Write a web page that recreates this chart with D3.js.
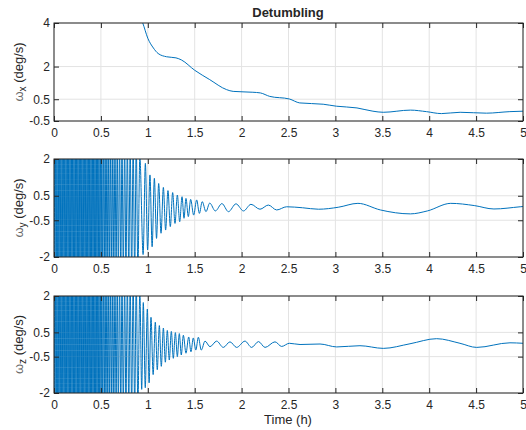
<!DOCTYPE html>
<html>
<head>
<meta charset="utf-8">
<script src="https://cdn.jsdelivr.net/npm/d3@7"></script>
<style>
  body { margin: 0; background: #fff; }
  text { font-family: "Liberation Sans", Arial, sans-serif; fill: #262626; }
</style>
</head>
<body>
<script>
var width = 526;
var height = 430;

// omega_x (deg/s) against time (h); values above 4 run off the top of the axes
var tX = [0, 0.4, 0.8, 0.946, 1.0, 1.06, 1.11, 1.2, 1.3, 1.36, 1.5, 1.66, 1.84, 1.91, 2.12, 2.2, 2.3, 2.51, 2.62, 2.87, 3.01, 3.23, 3.4, 3.51, 3.8, 3.97, 4.13, 4.33, 4.61, 4.86, 5.0];
var wX = [9, 7, 5, 4.0, 3.3, 2.85, 2.6, 2.45, 2.4, 2.3, 1.83, 1.4, 0.94, 0.86, 0.82, 0.79, 0.63, 0.51, 0.33, 0.27, 0.18, 0.1, -0.05, -0.1, 0.0, -0.07, -0.16, -0.1, -0.14, -0.07, -0.05];

// tumbling phase: turning points of the fast oscillation, all beyond +/-2 (clipped)
var denseT = [0.003, 0.010, 0.017, 0.024, 0.031, 0.038, 0.045, 0.052, 0.059, 0.066, 0.073, 0.080, 0.087, 0.094, 0.101, 0.108, 0.115, 0.122, 0.129, 0.136, 0.143, 0.150, 0.157, 0.164, 0.171, 0.178, 0.185, 0.192, 0.199, 0.206, 0.213, 0.220, 0.227, 0.234, 0.241, 0.248, 0.255, 0.262, 0.269, 0.276, 0.283, 0.290, 0.297, 0.304, 0.311, 0.318, 0.325, 0.332, 0.339, 0.346, 0.353, 0.360, 0.367, 0.374, 0.381, 0.388, 0.395, 0.402, 0.409, 0.416, 0.423, 0.430, 0.437, 0.444, 0.451, 0.458, 0.465, 0.472, 0.479, 0.486, 0.494, 0.502, 0.510, 0.518, 0.527, 0.536, 0.545, 0.554, 0.564, 0.574, 0.584, 0.594, 0.605, 0.616, 0.627, 0.638, 0.650, 0.662, 0.674, 0.686, 0.699, 0.712, 0.725, 0.739, 0.753, 0.767, 0.782, 0.797, 0.812, 0.828, 0.844, 0.860, 0.877, 0.894];
var denseV = [2.6, -2.6, 2.6, -2.6, 2.6, -2.6, 2.6, -2.6, 2.6, -2.6, 2.6, -2.6, 2.6, -2.6, 2.6, -2.6, 2.6, -2.6, 2.6, -2.6, 2.6, -2.6, 2.6, -2.6, 2.6, -2.6, 2.6, -2.6, 2.6, -2.6, 2.6, -2.6, 2.6, -2.6, 2.6, -2.6, 2.6, -2.6, 2.6, -2.6, 2.6, -2.6, 2.6, -2.6, 2.6, -2.6, 2.6, -2.6, 2.6, -2.6, 2.6, -2.6, 2.6, -2.6, 2.6, -2.6, 2.6, -2.6, 2.6, -2.6, 2.6, -2.6, 2.6, -2.6, 2.6, -2.6, 2.6, -2.6, 2.6, -2.6, 2.6, -2.6, 2.6, -2.6, 2.6, -2.6, 2.6, -2.6, 2.6, -2.6, 2.6, -2.6, 2.6, -2.6, 2.6, -2.6, 2.6, -2.6, 2.6, -2.6, 2.6, -2.6, 2.6, -2.6, 2.6, -2.6, 2.6, -2.6, 2.6, -2.6, 2.6, -2.6, 2.6, -2.6];

// omega_y after the tumbling phase
var tY = [0.915, 0.95, 0.974, 0.998, 1.023, 1.046, 1.07, 1.093, 1.116, 1.141, 1.166, 1.19, 1.215, 1.24, 1.265, 1.29, 1.315, 1.34, 1.365, 1.386, 1.407, 1.432, 1.457, 1.489, 1.521, 1.55, 1.58, 1.62, 1.66, 1.72, 1.79, 1.86, 1.94, 2.02, 2.1, 2.196, 2.285, 2.374, 2.48, 2.65, 2.82, 3.03, 3.24, 3.48, 3.8, 3.98, 4.23, 4.48, 4.69, 4.97, 5.0];
var wY = [2.1, -1.9, 1.82, -1.71, 1.35, -1.58, 1.21, -1.24, 1.0, -1.03, 0.84, -0.9, 0.71, -0.76, 0.63, -0.63, 0.53, -0.56, 0.46, -0.42, 0.39, -0.35, 0.35, -0.29, 0.33, -0.22, 0.26, -0.15, 0.2, -0.12, 0.18, -0.15, 0.17, -0.12, 0.15, -0.05, 0.12, -0.08, 0.05, 0.01, -0.05, 0.03, 0.19, -0.08, -0.24, -0.12, 0.19, 0.1, -0.04, 0.05, 0.06];

// omega_z after the tumbling phase
var tZ = [0.915, 0.935, 0.952, 0.973, 0.995, 1.014, 1.034, 1.057, 1.08, 1.101, 1.123, 1.144, 1.166, 1.187, 1.208, 1.229, 1.251, 1.272, 1.294, 1.315, 1.336, 1.357, 1.379, 1.407, 1.436, 1.46, 1.485, 1.512, 1.539, 1.57, 1.61, 1.663, 1.734, 1.805, 1.876, 1.947, 2.036, 2.107, 2.18, 2.25, 2.356, 2.427, 2.509, 2.623, 2.836, 3.014, 3.262, 3.511, 3.795, 4.079, 4.328, 4.506, 4.861, 5.0];
var wZ = [2.2, -1.85, 1.73, -1.78, 1.46, -1.58, 1.12, -1.24, 0.92, -1.04, 0.78, -0.9, 0.68, -0.73, 0.58, -0.64, 0.54, -0.57, 0.49, -0.5, 0.45, -0.43, 0.38, -0.36, 0.31, -0.3, 0.27, -0.23, 0.3, -0.23, 0.14, -0.09, 0.14, -0.12, 0.11, -0.12, 0.14, -0.12, 0.12, -0.12, 0.11, -0.08, 0.05, 0.0, 0.02, -0.1, -0.05, -0.16, 0.03, 0.24, 0.05, -0.12, 0.07, 0.05];

var xTicks = [0, 0.5, 1, 1.5, 2, 2.5, 3, 3.5, 4, 4.5, 5];
var yTicksX = [-0.5, 0.5, 2, 4];
var yTicksYZ = [-2, -0.5, 0.5, 2];

function pairs(t, v) {
  return t.map(function (d, i) { return [d, v[i]]; });
}

var panels = [
  { sub: 'x', top: 23, bottom: 121, domain: [-0.5, 4], ticks: yTicksX, pts: pairs(tX, wX) },
  { sub: 'y', top: 159, bottom: 257, domain: [-2, 2], ticks: yTicksYZ, pts: pairs(denseT, denseV).concat(pairs(tY, wY)) },
  { sub: 'z', top: 296, bottom: 393, domain: [-2, 2], ticks: yTicksYZ, pts: pairs(denseT, denseV).concat(pairs(tZ, wZ)) }
];

var left = 54, right = 523;
var x = d3.scaleLinear().domain([0, 5]).range([left, right]);
var fmt = function (d) { return String(d); };

var svg = d3.select('body').append('svg').attr('width', width).attr('height', height);
svg.append('rect').attr('width', width).attr('height', height).attr('fill', '#fff');

panels.forEach(function (p, k) {
  var y = d3.scaleLinear().domain(p.domain).range([p.bottom, p.top]);
  var g = svg.append('g');

  // grid
  g.selectAll('.gx').data(xTicks).enter().append('line')
    .attr('x1', x).attr('x2', x).attr('y1', p.top).attr('y2', p.bottom)
    .attr('stroke', '#e3e3e3').attr('stroke-width', 1);
  g.selectAll('.gy').data(p.ticks).enter().append('line')
    .attr('x1', left).attr('x2', right).attr('y1', y).attr('y2', y)
    .attr('stroke', '#e3e3e3').attr('stroke-width', 1);

  var clipId = 'clip' + k;
  svg.append('clipPath').attr('id', clipId).append('rect')
    .attr('x', left).attr('y', p.top).attr('width', right - left).attr('height', p.bottom - p.top);

  var line = d3.line().x(function (d) { return x(d[0]); }).y(function (d) { return y(d[1]); })
    .curve(d3.curveMonotoneX);
  g.append('path').datum(p.pts)
    .attr('clip-path', 'url(#' + clipId + ')')
    .attr('d', line).attr('fill', 'none').attr('stroke', '#0072BD').attr('stroke-width', 1);

  // axes with inward ticks on all four sides
  g.append('g').attr('transform', 'translate(0,' + p.bottom + ')')
    .call(d3.axisBottom(x).tickValues(xTicks).tickFormat(fmt).tickSizeInner(-5).tickSizeOuter(0).tickPadding(7));
  g.append('g').attr('transform', 'translate(0,' + p.top + ')')
    .call(d3.axisTop(x).tickValues(xTicks).tickFormat('').tickSizeInner(-5).tickSizeOuter(0));
  g.append('g').attr('transform', 'translate(' + left + ',0)')
    .call(d3.axisLeft(y).tickValues(p.ticks).tickFormat(fmt).tickSizeInner(-5).tickSizeOuter(0).tickPadding(4));
  g.append('g').attr('transform', 'translate(' + right + ',0)')
    .call(d3.axisRight(y).tickValues(p.ticks).tickFormat('').tickSizeInner(-5).tickSizeOuter(0));

  g.selectAll('.domain').remove();
  g.selectAll('.tick line').attr('stroke', '#262626');
  g.selectAll('.tick text').attr('font-size', 12).attr('fill', '#262626')
    .attr('font-family', '"Liberation Sans", Arial, sans-serif');

  g.append('rect').attr('x', left).attr('y', p.top).attr('width', right - left).attr('height', p.bottom - p.top)
    .attr('fill', 'none').attr('stroke', '#262626').attr('stroke-width', 1);

  var lab = g.append('text')
    .attr('transform', 'translate(23,' + (p.top + p.bottom) / 2 + ') rotate(-90)')
    .attr('text-anchor', 'middle').attr('font-size', 13);
  lab.append('tspan').attr('fill', '#6a6a6a').text('ω');
  lab.append('tspan').attr('font-size', 10).attr('dy', 3).text(p.sub);
  lab.append('tspan').attr('dy', -3).text(' (deg/s)');
});

svg.append('text').attr('x', 288).attr('y', 17).attr('text-anchor', 'middle')
  .attr('font-size', 13).attr('font-weight', 'bold').attr('fill', '#000').text('Detumbling');

svg.append('text').attr('x', 288).attr('y', 424).attr('text-anchor', 'middle')
  .attr('font-size', 13).text('Time (h)');
</script>
</body>
</html>
